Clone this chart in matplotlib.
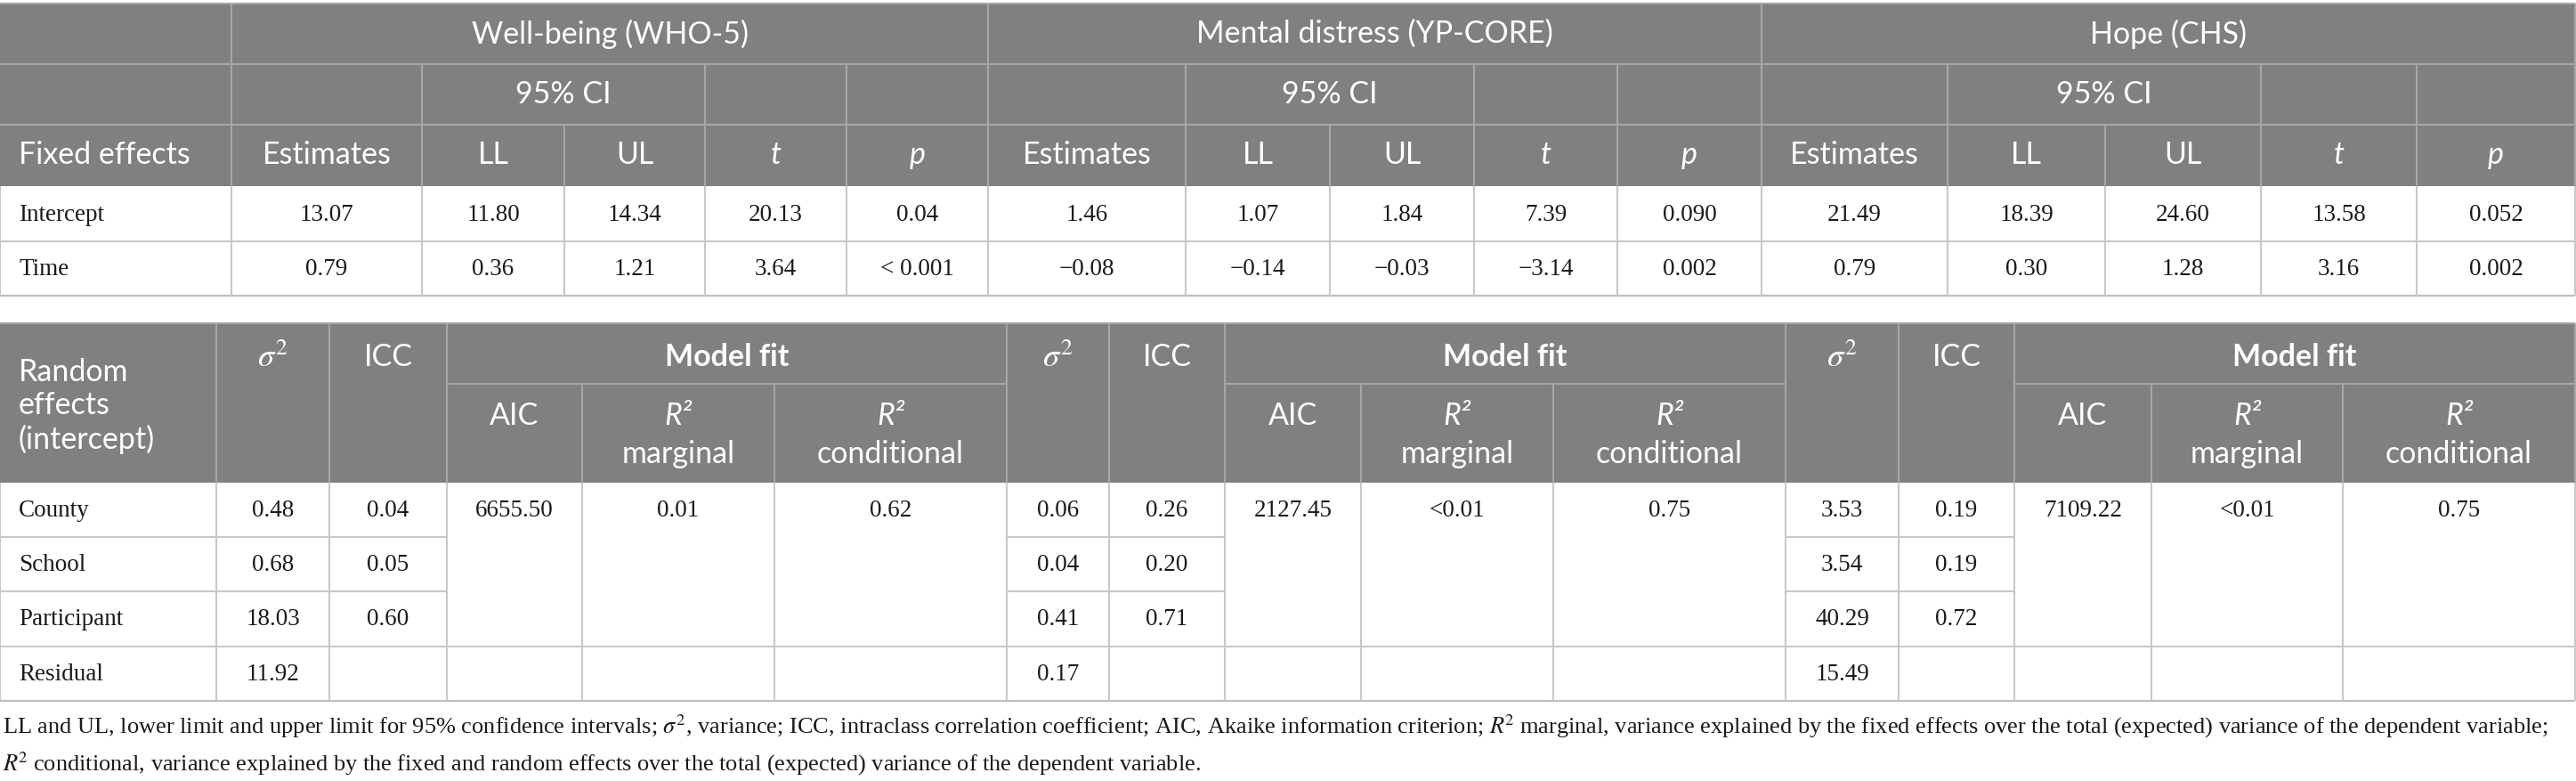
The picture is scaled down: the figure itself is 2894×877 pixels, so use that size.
import matplotlib
matplotlib.use("Agg")
import matplotlib.pyplot as plt
from matplotlib.patches import Rectangle

# ---- data -------------------------------------------------------------
measures = ["Well-being (WHO-5)", "Mental distress (YP-CORE)", "Hope (CHS)"]
fixed_cols = ["Estimates", "LL", "UL", "t", "p"]
fixed_terms = ["Intercept", "Time"]

wb_intercept = ["13.07", "11.80", "14.34", "20.13", "0.04"]
wb_time = ["0.79", "0.36", "1.21", "3.64", "< 0.001"]
md_intercept = ["1.46", "1.07", "1.84", "7.39", "0.090"]
md_time = ["\u22120.08", "\u22120.14", "\u22120.03", "\u22123.14", "0.002"]
hope_intercept = ["21.49", "18.39", "24.60", "13.58", "0.052"]
hope_time = ["0.79", "0.30", "1.28", "3.16", "0.002"]

random_terms = ["County", "School", "Participant", "Residual"]
wb_sigma2 = ["0.48", "0.68", "18.03", "11.92"]
wb_icc = ["0.04", "0.05", "0.60"]
wb_fit = ["6655.50", "0.01", "0.62"]
md_sigma2 = ["0.06", "0.04", "0.41", "0.17"]
md_icc = ["0.26", "0.20", "0.71"]
md_fit = ["2127.45", "<0.01", "0.75"]
hope_sigma2 = ["3.53", "3.54", "40.29", "15.49"]
hope_icc = ["0.19", "0.19", "0.72"]
hope_fit = ["7109.22", "<0.01", "0.75"]

footnote1 = ("LL and UL, lower limit and upper limit for 95% confidence intervals; $\\sigma^2$, variance; "
             "ICC, intraclass correlation coefficient; AIC, Akaike information criterion; $R^{\\!2}$ marginal, "
             "variance explained by the fixed effects over the total (expected) variance of the dependent variable;")
footnote2 = ("$R^{\\!2}$ conditional, variance explained by the fixed and random effects over the total "
             "(expected) variance of the dependent variable.")

fixed_data = [[wb_intercept, wb_time], [md_intercept, md_time], [hope_intercept, hope_time]]
random_data = [(wb_sigma2, wb_icc, wb_fit), (md_sigma2, md_icc, md_fit), (hope_sigma2, hope_icc, hope_fit)]

# ---- layout (pixels) --------------------------------------------------
W, H = 2894, 877
top_cols = [0, 260, 474, 634, 792, 951, 1110, 1332, 1494, 1656, 1817, 1979,
            2188, 2365, 2540, 2715, 2893]
top_rows = [4, 72, 140, 209, 271, 332]
bot_cols = [0, 243, 370, 502, 654, 870, 1131, 1246, 1376, 1529, 1745, 2006,
            2133, 2263, 2417, 2632, 2893]
bot_rows = [363, 431, 542, 603, 664, 726, 787]

HEAD = "#808080"
HLINE = "#a6a6a6"
BLINE = "#c8c8c8"
SANS = "Lato"
SERIF = "Liberation Serif"
HFS = 24.5
BFS = 19.5

fig = plt.figure(figsize=(W / 100, H / 100), dpi=100)
ax = fig.add_axes([0, 0, 1, 1])
ax.set_xlim(0, W)
ax.set_ylim(H, 0)
ax.axis("off")

LW = 1.5


def hline(y, x0, x1, c):
    ax.plot([x0, x1], [y, y], color=c, lw=LW, solid_capstyle="butt")


def vline(x, y0, y1, c):
    ax.plot([x, x], [y0, y1], color=c, lw=LW, solid_capstyle="butt")


def htext(x, y, s, ha="center", **kw):
    ax.text(x, y, s, ha=ha, va="center", color="white", fontsize=HFS, family=SANS, **kw)


def btext(x, y, s, ha="center"):
    ax.text(x, y, s, ha=ha, va="center", color="#1a1a1a", fontsize=BFS, family=SERIF)


def mid(a, b):
    return (a + b) / 2


# ---- top table ----------------------------------------------------------
ax.add_patch(Rectangle((0, top_rows[0]), top_cols[-1], top_rows[3] - top_rows[0], color=HEAD, lw=0))
for y in top_rows[1:3]:
    hline(y, 0, top_cols[-1], HLINE)
hline(top_rows[0], 0, top_cols[-1], HLINE)
for g in range(3):
    c = top_cols[1 + 5 * g: 7 + 5 * g]
    # group title row
    vline(c[0], top_rows[0], top_rows[1], HLINE)
    htext(mid(c[0], c[5]), mid(top_rows[0], top_rows[1]), measures[g])
    # 95% CI row
    for x in [c[0], c[1], c[3], c[4]]:
        vline(x, top_rows[1], top_rows[2], HLINE)
    htext(mid(c[1], c[3]), mid(top_rows[1], top_rows[2]), "95% CI")
    # column labels
    for j in range(5):
        vline(c[j], top_rows[2], top_rows[3], HLINE)
        style = "italic" if fixed_cols[j] in ("t", "p") else "normal"
        htext(mid(c[j], c[j + 1]), mid(top_rows[2], top_rows[3]), fixed_cols[j], fontstyle=style)
    # body
    for i in range(2):
        for j in range(5):
            btext(mid(c[j], c[j + 1]), mid(top_rows[3 + i], top_rows[4 + i]) + 1, fixed_data[g][i][j])
vline(top_cols[-1], top_rows[0], top_rows[3], HLINE)
htext(21, mid(top_rows[2], top_rows[3]), "Fixed effects", ha="left")
for i, term in enumerate(fixed_terms):
    btext(21, mid(top_rows[3 + i], top_rows[4 + i]) + 1, term, ha="left")
hline(top_rows[4], 0, top_cols[-1], BLINE)
hline(top_rows[5], 0, top_cols[-1], "#bdbdbd")
for x in top_cols:
    vline(x, top_rows[3], top_rows[5], BLINE)

# ---- bottom table -------------------------------------------------------
ax.add_patch(Rectangle((0, bot_rows[0]), bot_cols[-1], bot_rows[2] - bot_rows[0], color=HEAD, lw=0))
hline(bot_rows[0], 0, bot_cols[-1], HLINE)
ax.text(21, 456, "Random\neffects\n(intercept)", ha="left", va="center", color="white",
        fontsize=HFS, family=SANS, linespacing=1.2)
vline(bot_cols[1], bot_rows[0], bot_rows[2], HLINE)
for g in range(3):
    c = bot_cols[1 + 5 * g: 7 + 5 * g]
    ytop = mid(bot_rows[0], bot_rows[1]) + 4
    ysub = bot_rows[1] + 36
    vline(c[0], bot_rows[0], bot_rows[2], HLINE)
    vline(c[1], bot_rows[0], bot_rows[2], HLINE)
    vline(c[2], bot_rows[0], bot_rows[2], HLINE)
    vline(c[3], bot_rows[1], bot_rows[2], HLINE)
    vline(c[4], bot_rows[1], bot_rows[2], HLINE)
    hline(bot_rows[1], c[2], c[5], HLINE)
    t = ax.text(mid(c[0], c[1]), ytop, "$\\sigma^2$", ha="center", va="center", color="white",
                fontsize=HFS + 2)
    t.set_math_fontfamily("stix")
    htext(mid(c[1], c[2]), ytop, "ICC")
    htext(mid(c[2], c[5]), ytop, "Model fit", fontweight="bold")
    htext(mid(c[2], c[3]), ysub, "AIC")
    for k, lab in ((3, "marginal"), (4, "conditional")):
        htext(mid(c[k], c[k + 1]), ysub, "R\u00b2", fontstyle="italic")
        htext(mid(c[k], c[k + 1]), ysub + 43, lab)
    sig, icc, fit = random_data[g]
    for i in range(4):
        y = mid(bot_rows[2 + i], bot_rows[3 + i]) + 1
        btext(mid(c[0], c[1]), y, sig[i])
        if i < 3:
            btext(mid(c[1], c[2]), y, icc[i])
    for k in range(3):
        btext(mid(c[2 + k], c[3 + k]), mid(bot_rows[2], bot_rows[3]) + 1, fit[k])
    for y in bot_rows[3:5]:
        hline(y, c[0], c[2], BLINE)
vline(bot_cols[-1], bot_rows[0], bot_rows[2], HLINE)
for i, term in enumerate(random_terms):
    btext(21, mid(bot_rows[2 + i], bot_rows[3 + i]) + 1, term, ha="left")
for y in bot_rows[3:5]:
    hline(y, 0, bot_cols[1], BLINE)
hline(bot_rows[5], 0, bot_cols[-1], BLINE)
hline(bot_rows[6], 0, bot_cols[-1], "#bdbdbd")
for x in bot_cols:
    vline(x, bot_rows[2], bot_rows[6], BLINE)

# ---- footnote -----------------------------------------------------------
f1 = ax.text(3, 816, footnote1, ha="left", va="center", color="#1a1a1a", fontsize=16, family=SERIF)
f2 = ax.text(3, 858, footnote2, ha="left", va="center", color="#1a1a1a", fontsize=16, family=SERIF)
for f in (f1, f2):
    f.set_math_fontfamily("stix")
renderer = fig.canvas.get_renderer()
w1 = f1.get_window_extent(renderer=renderer).width
scale = 2870 / w1
for f in (f1, f2):
    f.set_fontsize(16 * scale)

fig.savefig("out.png", dpi=100)
